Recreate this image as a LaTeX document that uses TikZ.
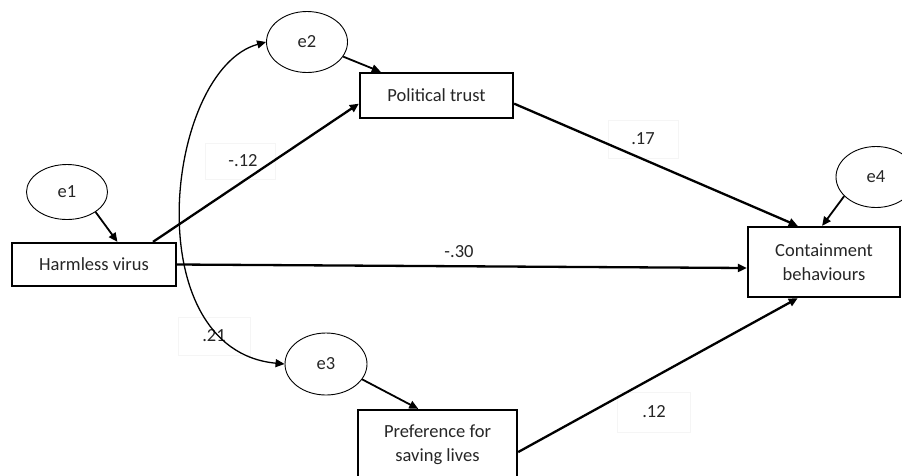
\documentclass[tikz,border=0pt]{standalone}
\usepackage{fontspec}
\setmainfont{Carlito}
\usetikzlibrary{arrows.meta,calc,shapes.geometric}
\begin{document}
\begin{tikzpicture}[x=1pt,y=-1pt,
  txt/.style={font=\fontsize{18.5}{24}\selectfont, text=black!85},
  var/.style={draw, line width=2.3pt, rectangle, txt, inner sep=0pt, align=center},
  err/.style={draw, line width=0.9pt, ellipse, txt, inner sep=0pt},
  lab/.style={draw=black!4, line width=0.8pt, txt, inner sep=0pt},
  path/.style={line width=2.3pt, -{Triangle[length=9pt,width=8pt]}},
  cov/.style={line width=1.3pt, {Triangle[length=9pt,width=8pt]}-{Triangle[length=9pt,width=8pt]}}
]
\path[use as bounding box] (0,0) rectangle (902,475);
\clip (0,0) rectangle (902,475);
\fill[white] (0,0) rectangle (902,475);

% observed variables
\node[var, minimum width=164pt, minimum height=43pt] (hv) at (94,264.5) {Harmless virus};
\node[var, minimum width=153pt, minimum height=45pt] (pt) at (436.5,95.5) {Political trust};
\node[var, minimum width=159pt, minimum height=70pt] (pref) at (437.5,445) {Preference for\\saving lives};
\node[var, minimum width=152pt, minimum height=70pt] (cb) at (824,262) {Containment\\behaviours};

% error terms
\node[err, minimum width=81pt, minimum height=55pt] (e1) at (67,192) {e1};
\node[err, minimum width=81pt, minimum height=61pt] (e2) at (307,42) {e2};
\node[err, minimum width=82pt, minimum height=62pt] (e3) at (326,364) {e3};
\node[err, minimum width=80pt, minimum height=61pt] (e4) at (876,177) {e4};

% coefficient labels
\node[lab, minimum width=70pt, minimum height=36pt] (l12) at (240,161) {\hspace*{6pt}-.12};
\node[lab, minimum width=70pt, minimum height=38pt] (l17) at (643,139) {.17};
\node[txt] (l30) at (459,252) {-.30};
\node[lab, minimum width=72pt, minimum height=38pt] (l21) at (214,336) {.21};
\node[lab, minimum width=73pt, minimum height=40pt] (l12b) at (654,412) {.12};

% paths
\draw[path] (hv.21) -- (pt.186);
\draw[path] (hv.east) -- ($(cb.west)+(0,6)$);
\draw[path] (pt.-6) -- (cb.126);
\draw[path] (pref.-5) -- (cb.234);

% error arrows
\draw[path, line width=1.8pt] (e1.-35) -- (hv.44);
\draw[path, line width=1.8pt] (e2.-22) -- (pt.157);
\draw[path, line width=1.8pt] (e3.-23) -- (pref.118);
\draw[path, line width=1.8pt] (e4.211) -- (cb.93);

% covariance
\draw[cov] (e2.west) .. controls (165,70) and (135,350) .. (e3.west);
\end{tikzpicture}
\end{document}
